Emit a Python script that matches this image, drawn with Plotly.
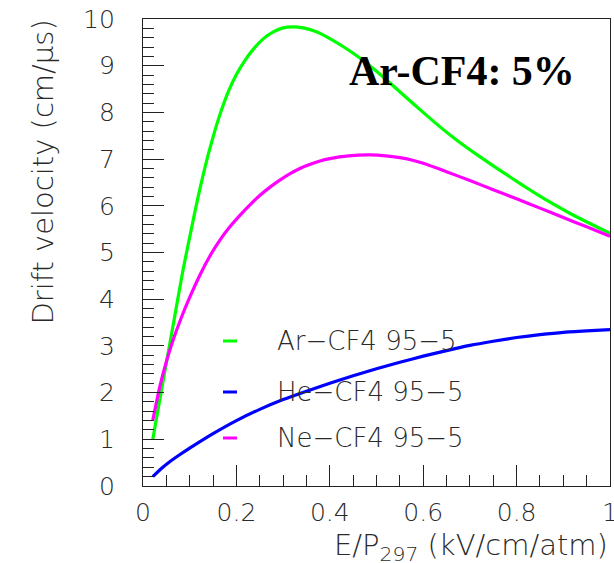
import plotly.graph_objects as go

# Electron drift velocity in CF4 mixtures (Garfield-style output)
ar_cf4_x = [0.021, 0.04, 0.065, 0.086, 0.108, 0.118, 0.129, 0.14, 0.154, 0.168,
            0.183, 0.2, 0.218, 0.236, 0.258, 0.28, 0.30, 0.322, 0.343, 0.37,
            0.4, 0.43, 0.465, 0.5, 0.53, 0.56, 0.6, 0.636, 0.67, 0.70,
            0.736, 0.772, 0.81, 0.843, 0.88, 0.914, 0.957, 1.0]
ar_cf4_v = [1.0, 2.08, 3.47, 4.64, 5.72, 6.19, 6.67, 7.11, 7.61, 8.05,
            8.45, 8.81, 9.11, 9.35, 9.58, 9.73, 9.81, 9.83, 9.81, 9.73,
            9.58, 9.40, 9.16, 8.88, 8.62, 8.35, 8.0, 7.69, 7.42, 7.20,
            6.95, 6.71, 6.46, 6.25, 6.03, 5.84, 5.62, 5.41]

he_cf4_x = [0.021, 0.04, 0.06, 0.08, 0.1, 0.15, 0.2, 0.25, 0.3, 0.35,
            0.4, 0.45, 0.5, 0.55, 0.6, 0.65, 0.7, 0.75, 0.8, 0.85,
            0.9, 0.95, 1.0]
he_cf4_v = [0.2, 0.38, 0.54, 0.68, 0.81, 1.12, 1.40, 1.64, 1.85, 2.03,
            2.2, 2.36, 2.51, 2.65, 2.78, 2.9, 3.01, 3.1, 3.18, 3.24,
            3.29, 3.32, 3.35]

ne_cf4_x = [0.021, 0.036, 0.05, 0.065, 0.083, 0.1, 0.122, 0.143, 0.165, 0.186,
            0.208, 0.229, 0.25, 0.272, 0.293, 0.315, 0.336, 0.358, 0.379, 0.4,
            0.44, 0.486, 0.52, 0.55, 0.575, 0.6, 0.65, 0.7, 0.75, 0.8,
            0.85, 0.9, 0.95, 1.0]
ne_cf4_v = [1.41, 2.13, 2.66, 3.14, 3.63, 4.04, 4.52, 4.92, 5.27, 5.55,
            5.80, 6.02, 6.22, 6.40, 6.55, 6.69, 6.80, 6.89, 6.96, 7.01,
            7.07, 7.09, 7.07, 7.03, 6.98, 6.91, 6.73, 6.54, 6.345, 6.15,
            5.95, 5.75, 5.55, 5.35]

series_names = ["Ar\u2212CF4 95\u22125", "He\u2212CF4 95\u22125", "Ne\u2212CF4 95\u22125"]
series_colors = ["#00ff00", "#0000ff", "#ff00ff"]
series_x = [ar_cf4_x, he_cf4_x, ne_cf4_x]
series_v = [ar_cf4_v, he_cf4_v, ne_cf4_v]

x_title = "E/P<sub>297</sub> (kV/cm/atm)"
y_title = "Drift velocity (cm/\u03bcs)"
banner = "<b>Ar-CF4: 5%</b>"

AXIS_FONT = "DejaVu Sans"
TEXT_COLOR = "#2a2a2a"
LIGHT = 300

fig = go.Figure()
# Ar first, Ne second, He last so the drawing order mirrors the stacking
for i in [0, 2, 1]:
    fig.add_trace(go.Scatter(
        x=series_x[i], y=series_v[i], mode="lines", name=series_names[i],
        line=dict(color=series_colors[i], width=3.2, shape="spline", smoothing=0.5),
        showlegend=False, hoverinfo="skip",
    ))

# Hand-laid legend: short stroke + label, stacked downward
legend_rows_y = [0.3105, 0.2013, 0.1028]
for name, color, yy in zip(series_names, series_colors, legend_rows_y):
    fig.add_shape(type="line", xref="paper", yref="paper",
                  x0=0.1713, x1=0.2013, y0=yy, y1=yy,
                  line=dict(color=color, width=3))
    fig.add_annotation(xref="paper", yref="paper", x=0.2827, y=yy,
                       xanchor="left", yanchor="middle", showarrow=False,
                       text=name,
                       font=dict(family=AXIS_FONT, size=26, color=TEXT_COLOR, weight=LIGHT))

# Axis titles, end-aligned
fig.add_annotation(xref="paper", yref="paper", x=-0.2141, y=1.002,
                   xanchor="center", yanchor="top", textangle=-90, showarrow=False,
                   text=y_title,
                   font=dict(family=AXIS_FONT, size=29, color=TEXT_COLOR, weight=LIGHT))
fig.add_annotation(xref="paper", yref="paper", x=1.0, y=-0.1756,
                   xanchor="right", yanchor="bottom", showarrow=False,
                   text=x_title,
                   font=dict(family=AXIS_FONT, size=29, color=TEXT_COLOR, weight=LIGHT))

# Mixture banner
fig.add_annotation(xref="paper", yref="paper", x=0.437, y=0.889,
                   xanchor="left", yanchor="middle", showarrow=False,
                   text=banner,
                   font=dict(family="Liberation Serif", size=42, color="#000000"))

axis_common = dict(
    showgrid=False, zeroline=False, showline=True, linecolor="#222222", linewidth=1.3,
    mirror=True, ticks="inside", ticklen=21, tickwidth=1.2, tickcolor="#222222",
    tickfont=dict(family=AXIS_FONT, size=25, color=TEXT_COLOR, weight=LIGHT),
    ticklabeloverflow="allow", automargin=False,
)

fig.update_xaxes(
    range=[0, 1], tick0=0, dtick=0.2, ticklabelstandoff=4,
    minor=dict(ticks="inside", ticklen=11, tickwidth=1.2, tickcolor="#222222", dtick=0.05, showgrid=False),
    **axis_common,
)
fig.update_yaxes(
    range=[0, 10], tick0=0, dtick=1, ticklabelstandoff=22,
    minor=dict(ticks="inside", ticklen=11, tickwidth=1.2, tickcolor="#222222", dtick=0.2, showgrid=False),
    **axis_common,
)

fig.update_layout(
    width=614, height=563,
    margin=dict(l=143, r=4, t=19, b=77),
    paper_bgcolor="white", plot_bgcolor="white",
    showlegend=False,
)

fig.write_html("out.html")
